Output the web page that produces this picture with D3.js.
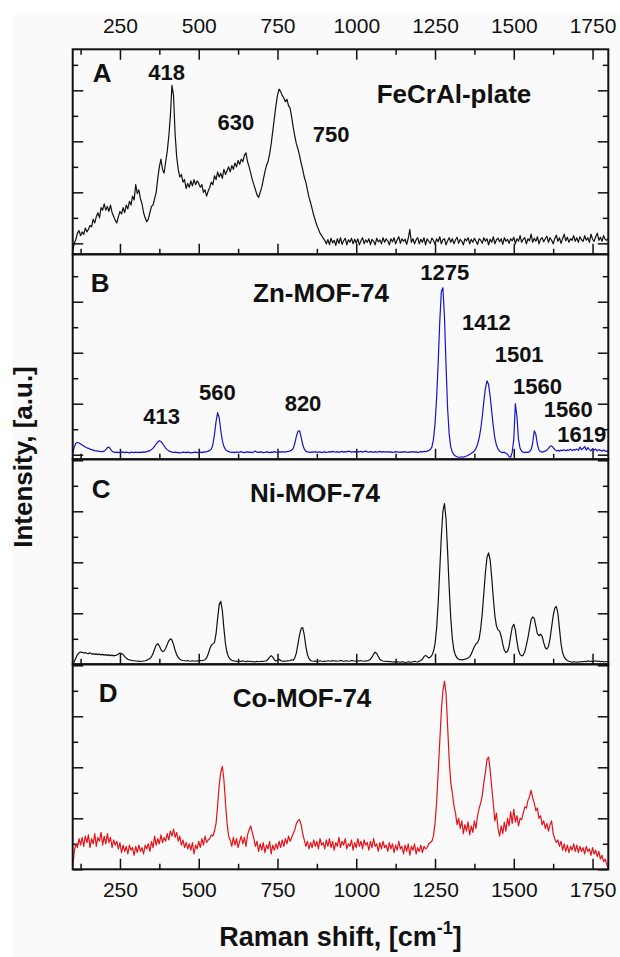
<!DOCTYPE html>
<html>
<head>
<meta charset="utf-8">
<script src="https://cdn.jsdelivr.net/npm/d3@7"></script>
<style>
  body { margin: 0; background: #fff; }
  svg { display: block; font-family: "Liberation Sans", Arial, sans-serif; }
</style>
</head>
<body>
<div id="chart"></div>
<script>
// Raman shift grid, cm-1 (one sample every 5 cm-1)
const shift = d3.range(100, 1801, 5);

// intensities in tick units of each panel
const feCrAl = [
  -0.3, 0.0, 0.15, 0.4, 0.5, 0.3, 0.45, 0.35, 0.6, 0.45, 0.55, 0.7, 0.65, 0.95, 0.8, 1.05, 1.2, 1.0, 1.4, 1.3,
  1.55, 1.3, 1.45, 1.25, 1.5, 1.2, 1.05, 0.9, 0.8, 1.05, 1.25, 1.15, 1.4, 1.2, 1.5, 1.35, 1.65, 1.5, 1.85, 1.7,
  2.3, 1.95, 2.1, 1.75, 1.55, 1.2, 1.0, 0.85, 0.95, 1.2, 1.45, 1.5, 1.75, 2.0, 2.55, 3.0, 3.3, 2.9, 2.75, 3.2,
  3.6, 4.2, 5.0, 6.2, 5.8, 4.3, 3.4, 2.9, 2.6, 2.7, 2.4, 2.5, 2.15, 2.35, 2.2, 2.45, 2.25, 2.5, 2.3, 2.45,
  2.35, 2.2, 2.3, 2.0, 2.1, 1.85, 2.05, 2.2, 2.4, 2.3, 2.65, 2.5, 2.8, 2.6, 2.75, 2.55, 2.9, 2.7, 2.85, 3.0,
  2.8, 3.05, 2.9, 3.15, 3.0, 3.25, 3.1, 3.3, 3.2, 3.45, 3.55, 3.2, 3.0, 2.75, 2.5, 2.3, 2.1, 1.9, 1.8, 2.0,
  2.2, 2.5, 2.8, 3.05, 3.2, 3.5, 3.9, 4.4, 4.9, 5.4, 5.8, 6.05, 5.95, 5.8, 5.7, 5.55, 5.65, 5.4, 5.3, 4.95,
  4.55, 4.2, 3.9, 3.7, 3.45, 3.15, 2.9, 2.6, 2.4, 2.1, 1.8, 1.6, 1.35, 1.1, 0.9, 0.7, 0.55, 0.4, 0.3, 0.2,
  0.12, -0.02, 0.15, -0.05, 0.2, 0.02, 0.12, -0.08, 0.18, 0.0, 0.22, -0.04, 0.1, 0.2, -0.06, 0.14, 0.05, 0.2, -0.02, 0.16,
  0.0, 0.18, -0.06, 0.1, 0.22, -0.02, 0.14, 0.04, 0.18, -0.05, 0.16, 0.08, -0.06, 0.2, 0.06, 0.14, -0.02, 0.22, 0.04, 0.18,
  0.1, -0.06, 0.18, 0.06, 0.22, -0.02, 0.14, 0.26, 0.0, 0.18, 0.08, 0.16, -0.04, 0.2, 0.55, 0.04, 0.18, -0.02, 0.14, 0.22,
  -0.02, 0.16, 0.04, 0.22, -0.06, 0.18, 0.08, 0.0, 0.2, 0.12, -0.04, 0.18, 0.06, 0.26, -0.02, 0.14, 0.18, -0.06, 0.1, 0.22,
  0.04, 0.18, -0.02, 0.14, 0.24, 0.0, 0.16, 0.08, -0.06, 0.18, 0.1, 0.22, -0.02, 0.16, 0.04, 0.2, 0.08, -0.04, 0.18, 0.12,
  0.0, 0.22, 0.08, 0.18, -0.06, 0.16, 0.04, 0.26, -0.02, 0.14, 0.2, 0.06, 0.18, -0.04, 0.22, 0.08, 0.16, 0.0, 0.18, 0.1,
  0.24, -0.02, 0.18, 0.08, 0.3, 0.04, 0.16, 0.22, -0.02, 0.18, 0.1, 0.36, 0.04, 0.2, 0.08, 0.26, -0.02, 0.16, 0.22, 0.06,
  0.18, 0.28, 0.04, 0.22, 0.12, -0.02, 0.18, 0.32, 0.08, 0.22, 0.0, 0.18, 0.36, 0.1, 0.24, 0.04, 0.18, 0.12, 0.3, 0.08,
  0.22, 0.04, 0.26, 0.14, 0.08, 0.3, 0.12, 0.22, 0.04, 0.36, 0.16, 0.08, 0.26, 0.4, 0.12, 0.24, 0.08, 0.3, 0.16, 0.12,
  0.2
];

const znMof = [
  0.05, 0.3, 0.45, 0.48, 0.46, 0.42, 0.38, 0.34, 0.3, 0.27, 0.25, 0.22, 0.2, 0.18, 0.16, 0.15, 0.14, 0.13, 0.12, 0.12,
  0.14, 0.2, 0.28, 0.3, 0.22, 0.14, 0.1, 0.09, 0.1, 0.08, 0.1, 0.09, 0.11, 0.08, 0.1, 0.09, 0.07, 0.1, 0.09, 0.08,
  0.1, 0.09, 0.08, 0.1, 0.09, 0.11, 0.1, 0.12, 0.14, 0.16, 0.2, 0.26, 0.34, 0.42, 0.5, 0.55, 0.52, 0.44, 0.35, 0.26,
  0.2, 0.15, 0.12, 0.1, 0.09, 0.1, 0.08, 0.09, 0.07, 0.08, 0.1, 0.09, 0.08, 0.1, 0.09, 0.07, 0.08, 0.09, 0.1, 0.08,
  0.09, 0.1, 0.08, 0.11, 0.1, 0.12, 0.14, 0.17, 0.22, 0.4, 0.8, 1.3, 1.65, 1.45, 0.95, 0.55, 0.32, 0.2, 0.15, 0.12,
  0.1, 0.09, 0.1, 0.08, 0.11, 0.09, 0.1, 0.12, 0.09, 0.08, 0.1, 0.11, 0.09, 0.1, 0.08, 0.12, 0.14, 0.1, 0.09, 0.11,
  0.1, 0.08, 0.09, 0.11, 0.1, 0.08, 0.1, 0.09, 0.12, 0.1, 0.09, 0.11, 0.1, 0.12, 0.1, 0.11, 0.12, 0.13, 0.15, 0.18,
  0.25, 0.45, 0.72, 0.92, 0.94, 0.7, 0.4, 0.22, 0.14, 0.11, 0.1, 0.09, 0.11, 0.1, 0.12, 0.09, 0.1, 0.11, 0.08, 0.1,
  0.11, 0.09, 0.1, 0.12, 0.1, 0.13, 0.11, 0.1, 0.12, 0.09, 0.11, 0.13, 0.1, 0.12, 0.11, 0.14, 0.12, 0.1, 0.11, 0.12,
  0.1, 0.12, 0.11, 0.13, 0.1, 0.12, 0.14, 0.11, 0.1, 0.12, 0.11, 0.09, 0.12, 0.1, 0.11, 0.13, 0.1, 0.12, 0.11, 0.1,
  0.12, 0.1, 0.11, 0.09, 0.1, 0.12, 0.11, 0.1, 0.09, 0.11, 0.1, 0.12, 0.1, 0.09, 0.11, 0.1, 0.12, 0.1, 0.11, 0.09,
  0.1, 0.12, 0.11, 0.13, 0.12, 0.14, 0.16, 0.2, 0.3, 0.6, 1.2, 2.2, 3.6, 5.2, 6.4, 6.55, 5.4, 3.5, 1.8, 0.8,
  0.3, 0.1, 0.0, -0.05, -0.08, -0.1, -0.1, -0.08, -0.1, -0.07, -0.05, -0.02, 0.02, 0.05, 0.1, 0.15, 0.25, 0.4, 0.65, 1.0,
  1.5, 2.1, 2.6, 2.9, 2.75, 2.3, 1.7, 1.1, 0.65, 0.38, 0.22, 0.14, 0.1, 0.08, 0.1, 0.06, 0.02, -0.08, -0.1, 0.1,
  0.6, 2.0, 1.5, 0.6, 0.25, 0.14, 0.1, 0.08, 0.1, 0.09, 0.12, 0.2, 0.45, 0.94, 0.8, 0.4, 0.18, 0.12, 0.1, 0.12,
  0.14, 0.18, 0.25, 0.33, 0.35, 0.28, 0.2, 0.15, 0.17, 0.14, 0.18, 0.16, 0.2, 0.15, 0.19, 0.17, 0.22, 0.16, 0.2, 0.18,
  0.22, 0.17, 0.3, 0.2, 0.25, 0.32, 0.18, 0.28, 0.2, 0.15, 0.24, 0.18, 0.22, 0.15, 0.2, 0.17, 0.14, 0.18, 0.15, 0.13,
  0.15
];

const niMof = [
  0.0, 0.1, 0.25, 0.38, 0.45, 0.48, 0.47, 0.44, 0.46, 0.43, 0.42, 0.45, 0.4, 0.42, 0.39, 0.41, 0.38, 0.4, 0.37, 0.39,
  0.36, 0.38, 0.35, 0.37, 0.34, 0.36, 0.33, 0.35, 0.36, 0.4, 0.44, 0.42, 0.38, 0.3, 0.24, 0.2, 0.17, 0.16, 0.15, 0.14,
  0.13, 0.12, 0.13, 0.11, 0.12, 0.13, 0.14, 0.16, 0.2, 0.22, 0.3, 0.42, 0.6, 0.75, 0.81, 0.72, 0.58, 0.5, 0.52, 0.62,
  0.78, 0.92, 1.0, 0.95, 0.78, 0.55, 0.38, 0.27, 0.2, 0.17, 0.15, 0.14, 0.13, 0.15, 0.13, 0.12, 0.14, 0.13, 0.12, 0.14,
  0.13, 0.15, 0.14, 0.16, 0.18, 0.25, 0.4, 0.6, 0.75, 0.8, 0.85, 1.2, 1.8, 2.35, 2.47, 2.1, 1.4, 0.8, 0.45, 0.28,
  0.2, 0.16, 0.14, 0.12, 0.13, 0.1, 0.12, 0.11, 0.14, 0.12, 0.1, 0.13, 0.11, 0.12, 0.1, 0.11, 0.09, 0.12, 0.1, 0.11,
  0.12, 0.11, 0.13, 0.14, 0.2, 0.28, 0.34, 0.28, 0.18, 0.13, 0.16, 0.2, 0.15, 0.12, 0.13, 0.12, 0.14, 0.13, 0.15, 0.18,
  0.16, 0.25, 0.45, 0.8, 1.15, 1.4, 1.44, 1.15, 0.7, 0.38, 0.22, 0.15, 0.13, 0.12, 0.13, 0.11, 0.12, 0.14, 0.12, 0.11,
  0.13, 0.12, 0.14, 0.13, 0.12, 0.15, 0.13, 0.14, 0.12, 0.13, 0.15, 0.14, 0.12, 0.13, 0.14, 0.12, 0.13, 0.15, 0.14, 0.13,
  0.12, 0.14, 0.13, 0.15, 0.13, 0.12, 0.14, 0.13, 0.16, 0.2, 0.28, 0.4, 0.48, 0.42, 0.3, 0.2, 0.15, 0.13, 0.12, 0.11,
  0.12, 0.1, 0.11, 0.09, 0.1, 0.08, 0.1, 0.09, 0.08, 0.1, 0.09, 0.07, 0.08, 0.1, 0.09, 0.08, 0.1, 0.12, 0.1, 0.09,
  0.12, 0.15, 0.2, 0.3, 0.35, 0.3, 0.25, 0.28, 0.35, 0.5, 0.8, 1.4, 2.4, 3.7, 5.0, 6.0, 6.3, 5.7, 4.4, 3.0,
  1.8, 1.0, 0.55, 0.35, 0.25, 0.2, 0.18, 0.17, 0.18, 0.2, 0.22, 0.25, 0.3, 0.4, 0.55, 0.7, 0.8, 0.85, 1.0, 1.4,
  2.0, 2.8, 3.6, 4.2, 4.37, 4.1, 3.4, 2.6, 1.9, 1.5, 1.35, 1.3, 1.1, 0.8, 0.55, 0.46, 0.5, 0.7, 1.1, 1.45,
  1.57, 1.35, 0.9, 0.55, 0.38, 0.33, 0.36, 0.5, 0.75, 1.05, 1.4, 1.75, 1.86, 1.8, 1.5, 1.2, 1.12, 1.18, 1.1, 0.85,
  0.65, 0.6, 0.7, 1.0, 1.45, 1.9, 2.2, 2.27, 2.0, 1.4, 0.8, 0.45, 0.28, 0.2, 0.15, 0.12, 0.1, 0.08, 0.1, 0.09,
  0.08, 0.1, 0.09, 0.11, 0.1, 0.12, 0.1, 0.14, 0.11, 0.13, 0.1, 0.12, 0.14, 0.11, 0.13, 0.1, 0.12, 0.09, 0.11, 0.1,
  0.1
];

const coMof = [
  0.1, 0.7, 1.0, 0.85, 1.2, 0.95, 1.25, 0.9, 1.3, 1.05, 1.35, 0.85, 1.2, 1.0, 1.4, 0.9, 1.25, 1.1, 1.45, 0.95,
  1.3, 1.0, 1.4, 1.05, 1.25, 0.85, 1.15, 0.95, 1.1, 0.8, 1.05, 0.65, 0.95, 0.7, 0.9, 0.6, 0.95, 0.75, 0.85, 0.55,
  0.9, 0.65, 0.95, 0.7, 0.85, 0.6, 0.95, 0.8, 1.0, 0.7, 1.1, 0.85, 1.3, 0.95, 1.2, 1.0, 1.35, 1.05, 1.25, 1.1,
  1.4, 1.15, 1.5, 1.3, 1.58, 1.25, 1.45, 1.1, 1.3, 0.95, 1.15, 0.85, 1.05, 0.8, 1.0, 0.75, 1.05, 0.6, 0.95, 0.8,
  1.1, 0.85, 1.2, 0.95, 1.3, 1.05, 1.15, 1.2, 1.35, 1.3, 1.5, 1.8, 2.5, 3.3, 3.8, 4.04, 3.5, 2.6, 1.8, 1.3,
  1.15, 0.9, 1.25, 0.95, 1.2, 0.85, 1.1, 1.3, 1.0, 1.25, 0.9, 1.35, 1.55, 1.7, 1.45, 1.2, 0.9, 1.1, 0.7, 1.0,
  0.75, 1.05, 0.65, 0.95, 0.8, 1.1, 0.6, 0.95, 0.75, 1.0, 0.8, 1.1, 0.85, 1.15, 0.9, 1.2, 1.0, 1.3, 1.1, 1.25,
  1.4, 1.55, 1.8, 1.9, 1.95, 1.75, 1.4, 1.15, 0.9, 1.1, 0.8, 1.05, 0.85, 1.15, 0.9, 1.1, 0.8, 1.2, 0.95, 1.05,
  0.8, 1.15, 0.9, 1.2, 0.85, 1.1, 0.75, 1.05, 0.9, 1.25, 0.85, 1.1, 0.95, 1.2, 0.8, 1.0, 0.9, 1.15, 0.75, 1.05,
  0.85, 1.2, 0.9, 1.1, 0.8, 1.15, 0.95, 1.05, 0.75, 1.1, 0.85, 1.2, 0.9, 1.0, 0.7, 1.05, 0.8, 1.1, 0.85, 0.95,
  0.7, 1.05, 0.8, 1.0, 0.65, 0.95, 0.75, 1.1, 0.8, 0.9, 0.6, 0.95, 0.7, 1.0, 0.55, 0.9, 0.75, 1.0, 0.6, 0.85,
  0.7, 0.95, 0.65, 0.9, 0.8, 0.85, 1.0, 1.05, 1.1, 1.3, 1.8, 2.6, 3.8, 5.0, 6.2, 7.0, 7.38, 6.9, 5.6, 4.3,
  3.4, 3.0, 2.5, 2.2, 1.75, 2.0, 1.6, 1.9, 1.4, 1.75, 1.5, 1.85, 1.35, 1.7, 1.45, 1.9, 1.6, 2.1, 2.4, 2.6,
  2.9, 3.4, 3.8, 4.3, 4.4, 3.9, 3.2, 2.6, 1.9, 2.2, 1.6, 1.3, 1.7, 1.4, 1.85, 1.5, 2.0, 1.7, 2.25, 1.8,
  2.35, 1.85, 2.1, 1.7, 2.0, 1.95, 2.2, 2.45, 2.4, 2.7, 2.85, 3.1, 2.8, 2.6, 2.3, 2.4, 2.0, 2.1, 1.75, 1.9,
  1.6, 1.8, 1.5, 1.75, 1.9, 1.4, 1.2, 1.05, 1.15, 0.9, 1.1, 0.75, 1.0, 0.7, 0.95, 0.65, 0.9, 0.75, 1.0, 0.7,
  0.95, 0.65, 0.9, 0.7, 0.85, 0.6, 0.9, 0.7, 0.8, 0.55, 0.85, 0.6, 0.75, 0.5, 0.7, 0.4, 0.55, 0.3, 0.4, 0.2,
  0.05
];

const panelLetters = ["A", "B", "C", "D"];
const sampleNames = ["FeCrAl-plate", "Zn-MOF-74", "Ni-MOF-74", "Co-MOF-74"];

// peak labels: [text, Raman shift, intensity] in the panel's own units
const peaksA = [["418", 398, 6.4], ["630", 618, 4.44], ["750", 920, 3.98]];
const peaksB = [
  ["413", 382, 1.2], ["560", 559, 2.15], ["820", 831, 1.73], ["1275", 1281, 6.85],
  ["1412", 1413, 4.89], ["1501", 1517, 3.62], ["1560", 1575, 2.38], ["1560", 1673, 1.46],
  ["1619", 1716, 0.51]
];

const xMinorTicks = [125, 375, 625, 875, 1125, 1375, 1625];
const xMajorTicks = [250, 500, 750, 1000, 1250, 1500, 1750];

// layout
const width = 620, height = 957;
const left = 72.7, right = 608.3;
const plotTop = 49.3, panelH = 205, tickPx = 25.5;
const major = 10.5, minor = 5.5;

const panels = [
  { values: feCrAl, color: "#111", lo: -0.43, peaks: peaksA, letterDx: 20, letterDy: 32.4, nameX: 454, nameDy: 53.7 },
  { values: znMof, color: "#1414c8", lo: -0.18, peaks: peaksB, letterDx: 18, letterDy: 37.7, nameX: 321, nameDy: 47.7 },
  { values: niMof, color: "#111", lo: 0, peaks: [], letterDx: 19, letterDy: 38.3, nameX: 315, nameDy: 42.3 },
  { values: coMof, color: "#e3121b", lo: 0, peaks: [], letterDx: 26, letterDy: 38, nameX: 302, nameDy: 43 },
];

const x = d3.scaleLinear().domain([100, 1800]).range([left, right]);

const svg = d3.select("#chart").append("svg")
  .attr("width", width)
  .attr("height", height);

svg.append("rect").attr("width", width).attr("height", height).attr("fill", "#fff");
svg.append("rect").attr("x", 12).attr("y", 15)
  .attr("width", width - 12).attr("height", height - 15).attr("fill", "#fafafa");

function tickAxis(axis, values, size) {
  return axis.tickValues(values).tickSize(size).tickFormat("");
}

function styleAxis(g) {
  g.select(".domain").remove();
  g.selectAll(".tick line").attr("stroke", "#111").attr("stroke-width", 1.5);
}

panels.forEach((p, i) => {
  const top = plotTop + i * panelH;
  const bottom = top + panelH;
  const y = d3.scaleLinear()
    .domain([p.lo, p.lo + panelH / tickPx])
    .range([bottom, top]);

  const yTicks = d3.range(Math.ceil(p.lo), Math.floor(p.lo + panelH / tickPx) + 1);
  const yMajor = yTicks.filter((t) => t % 2 === 0);
  const yMinor = yTicks.filter((t) => t % 2 !== 0);

  const g = svg.append("g");

  svg.append("clipPath").attr("id", "clip" + i)
    .append("rect")
    .attr("x", left).attr("y", top)
    .attr("width", right - left).attr("height", panelH);

  // ticks pointing into the frame
  [[yMajor, major], [yMinor, minor]].forEach(([vals, size]) => {
    g.append("g").attr("transform", `translate(${left},0)`)
      .call(tickAxis(d3.axisRight(y), vals, size)).call(styleAxis);
    g.append("g").attr("transform", `translate(${right},0)`)
      .call(tickAxis(d3.axisLeft(y), vals, size)).call(styleAxis);
  });
  [[xMajorTicks, major], [xMinorTicks, minor]].forEach(([vals, size]) => {
    g.append("g").attr("transform", `translate(0,${bottom})`)
      .call(tickAxis(d3.axisTop(x), vals, size)).call(styleAxis);
    if (i === 0) {
      g.append("g").attr("transform", `translate(0,${top})`)
        .call(tickAxis(d3.axisBottom(x), vals, size)).call(styleAxis);
    }
  });

  const line = d3.line()
    .x((d, k) => x(shift[k]))
    .y((d) => y(d));

  g.append("path")
    .datum(p.values)
    .attr("clip-path", `url(#clip${i})`)
    .attr("d", line)
    .attr("fill", "none")
    .attr("stroke", p.color)
    .attr("stroke-width", 1.2)
    .attr("stroke-linejoin", "round");

  g.append("rect")
    .attr("x", left).attr("y", top)
    .attr("width", right - left).attr("height", panelH)
    .attr("fill", "none")
    .attr("stroke", "#111")
    .attr("stroke-width", 2);

  g.append("text")
    .attr("x", left + p.letterDx)
    .attr("y", top + p.letterDy)
    .attr("font-size", 26)
    .attr("font-weight", "bold")
    .attr("fill", "#111")
    .text(panelLetters[i]);

  g.append("text")
    .attr("x", p.nameX)
    .attr("y", top + p.nameDy)
    .attr("text-anchor", "middle")
    .attr("font-size", 26)
    .attr("font-weight", "bold")
    .attr("fill", "#111")
    .text(sampleNames[i]);

  g.selectAll(".peak")
    .data(p.peaks)
    .enter()
    .append("text")
    .attr("class", "peak")
    .attr("x", (d) => x(d[1]))
    .attr("y", (d) => y(d[2]))
    .attr("text-anchor", "middle")
    .attr("font-size", 22)
    .attr("font-weight", "bold")
    .attr("fill", "#111")
    .text((d) => d[0]);
});

// tick labels above and below
const plotBottom = plotTop + 4 * panelH;
svg.append("g")
  .attr("transform", `translate(0,${plotTop})`)
  .call(d3.axisTop(x).tickValues(xMajorTicks).tickFormat(d3.format("d")).tickSize(0).tickPadding(16.3))
  .call((g) => g.select(".domain").remove())
  .selectAll("text").attr("font-size", 21).attr("font-family", null).attr("fill", "#111");

svg.append("g")
  .attr("transform", `translate(0,${plotBottom})`)
  .call(d3.axisBottom(x).tickValues(xMajorTicks).tickFormat(d3.format("d")).tickSize(0).tickPadding(12.8))
  .call((g) => g.select(".domain").remove())
  .selectAll("text").attr("font-size", 21).attr("font-family", null).attr("fill", "#111");

// axis titles
svg.append("text")
  .attr("transform", "translate(32,457) rotate(-90)")
  .attr("text-anchor", "middle")
  .attr("font-size", 26)
  .attr("font-weight", "bold")
  .attr("fill", "#111")
  .text("Intensity, [a.u.]");

const xTitle = svg.append("text")
  .attr("x", (left + right) / 2)
  .attr("y", 946)
  .attr("text-anchor", "middle")
  .attr("font-size", 27)
  .attr("font-weight", "bold")
  .attr("fill", "#111");
xTitle.append("tspan").text("Raman shift, [cm");
xTitle.append("tspan").attr("font-size", 18).attr("dy", -12).text("-1");
xTitle.append("tspan").attr("dy", 12).text("]");
</script>
</body>
</html>
